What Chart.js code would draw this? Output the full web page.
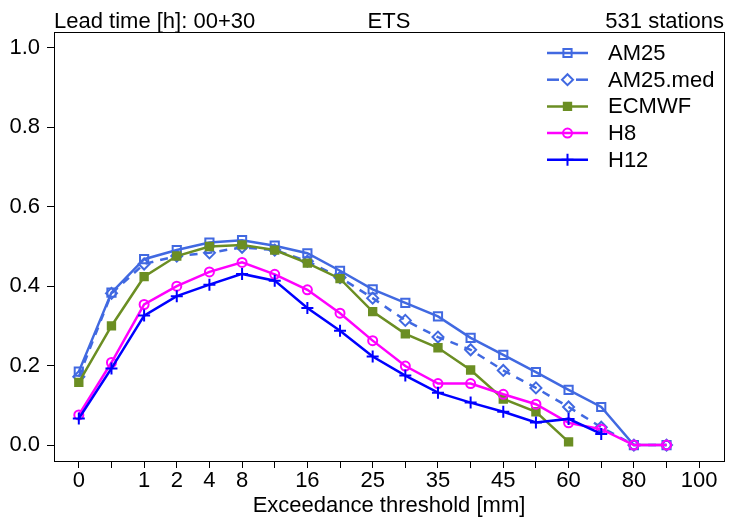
<!DOCTYPE html>
<html>
<head>
<meta charset="utf-8">
<script src="https://cdn.jsdelivr.net/npm/chart.js@4.4.1/dist/chart.umd.min.js"></script>
<style>
  html, body { margin: 0; padding: 0; background: #fff; }
  #wrap { width: 732px; height: 520px; }
</style>
</head>
<body>
<div id="wrap"><canvas id="etsChart" width="732" height="520"></canvas></div>
<script>
// exceedance thresholds [mm], one per x position
const thresholds = ["0", "0.5", "1", "2", "4", "8", "12", "16", "20", "25", "30", "35", "40", "45", "50", "60", "70", "80", "90", "100"];
const shownLabels = ["0", "1", "2", "4", "8", "16", "25", "35", "45", "60", "80", "100"];
const yTicks = [0, 0.2, 0.4, 0.6, 0.8, 1.0];

// ETS per threshold (missing thresholds simply left off the end)
const am25 = [0.185, 0.384, 0.468, 0.491, 0.510, 0.516, 0.502, 0.483, 0.439, 0.392, 0.358, 0.324, 0.270, 0.227, 0.184, 0.139, 0.096, 0.0, 0.0];
const am25Med = [0.172, 0.382, 0.456, 0.476, 0.484, 0.498, 0.491, 0.463, 0.422, 0.370, 0.314, 0.272, 0.240, 0.188, 0.144, 0.096, 0.045, 0.0, 0.0];
const ecmwf = [0.158, 0.300, 0.424, 0.476, 0.500, 0.504, 0.491, 0.458, 0.419, 0.336, 0.280, 0.245, 0.189, 0.116, 0.084, 0.008];
const h8 = [0.076, 0.208, 0.354, 0.400, 0.436, 0.460, 0.430, 0.391, 0.332, 0.263, 0.199, 0.155, 0.155, 0.128, 0.103, 0.056, 0.040, 0.0, 0.0];
const h12 = [0.067, 0.193, 0.326, 0.375, 0.404, 0.431, 0.414, 0.345, 0.288, 0.223, 0.175, 0.132, 0.107, 0.084, 0.057, 0.066, 0.028];

const FONT = "'Liberation Sans', Arial, Helvetica, sans-serif";

const series = [
  { label: "AM25", data: am25, color: "#4169e1", style: "rect", fill: false, dash: [], r: 5.8 },
  { label: "AM25.med", data: am25Med, color: "#4169e1", style: "rectRot", fill: false, dash: [8, 7], r: 5.5 },
  { label: "ECMWF", data: ecmwf, color: "#6b8e23", style: "rect", fill: true, dash: [], r: 5.2 },
  { label: "H8", data: h8, color: "#ff00ff", style: "circle", fill: false, dash: [], r: 4.5 },
  { label: "H12", data: h12, color: "#0000ff", style: "cross", fill: false, dash: [], r: 6 }
];

function toPoints(vals) {
  return vals.map((v, i) => ({ x: i, y: v }));
}

const datasets = series.map((s, i) => ({
  label: s.label,
  data: toPoints(s.data),
  borderColor: s.color,
  backgroundColor: s.fill ? s.color : "rgba(0,0,0,0)",
  borderWidth: 2.5,
  borderDash: s.dash,
  pointStyle: s.style,
  pointRadius: s.r,
  pointBorderWidth: 2,
  pointBorderColor: s.color,
  pointBackgroundColor: s.fill ? s.color : "rgba(0,0,0,0)",
  tension: 0,
  order: series.length - i
}));

function drawMarker(ctx, s, x, y) {
  ctx.save();
  ctx.strokeStyle = s.color;
  ctx.fillStyle = s.color;
  ctx.lineWidth = 2;
  ctx.setLineDash([]);
  ctx.beginPath();
  if (s.style === "rect") {
    const h = s.r * Math.SQRT1_2;
    ctx.rect(x - h, y - h, 2 * h, 2 * h);
  } else if (s.style === "rectRot") {
    ctx.moveTo(x, y - s.r); ctx.lineTo(x + s.r, y); ctx.lineTo(x, y + s.r); ctx.lineTo(x - s.r, y); ctx.closePath();
  } else if (s.style === "circle") {
    ctx.arc(x, y, s.r, 0, Math.PI * 2);
  } else if (s.style === "cross") {
    ctx.moveTo(x - s.r, y); ctx.lineTo(x + s.r, y); ctx.moveTo(x, y - s.r); ctx.lineTo(x, y + s.r);
  }
  if (s.fill) ctx.fill();
  ctx.stroke();
  ctx.restore();
}

const framePlugin = {
  id: "frame",
  afterDraw(chart) {
    const { ctx, chartArea: a } = chart;
    ctx.save();
    ctx.strokeStyle = "#000";
    ctx.lineWidth = 1;
    ctx.strokeRect(a.left + 0.5, a.top + 0.5, a.right - a.left, a.bottom - a.top);

    // header texts
    ctx.fillStyle = "#000";
    ctx.font = "22px " + FONT;
    ctx.textBaseline = "alphabetic";
    ctx.textAlign = "left";
    ctx.fillText("Lead time [h]: 00+30", a.left, 28);
    ctx.textAlign = "center";
    ctx.fillText("ETS", (a.left + a.right) / 2, 28);
    ctx.textAlign = "right";
    ctx.fillText("531 stations", a.right, 28);

    // legend
    ctx.textAlign = "left";
    ctx.textBaseline = "middle";
    series.forEach((s, i) => {
      const y = 53 + i * 26.7;
      ctx.save();
      ctx.strokeStyle = s.color;
      ctx.lineWidth = 2.5;
      if (s.dash.length) {
        ctx.beginPath(); ctx.moveTo(547, y); ctx.lineTo(559, y); ctx.stroke();
        ctx.beginPath(); ctx.moveTo(576, y); ctx.lineTo(588, y); ctx.stroke();
      } else {
        ctx.beginPath(); ctx.moveTo(547, y); ctx.lineTo(588, y); ctx.stroke();
      }
      ctx.restore();
      drawMarker(ctx, s, 567.5, y);
      ctx.fillStyle = "#000";
      ctx.fillText(s.label, 608, y + 1);
    });
    ctx.restore();
  }
};

const ctx = document.getElementById("etsChart");
new Chart(ctx, {
  type: "line",
  data: { datasets: datasets },
  options: {
    responsive: false,
    animation: false,
    layout: { padding: { top: 32, right: 7, left: 0, bottom: 0 } },
    plugins: { legend: { display: false }, tooltip: { enabled: false } },
    scales: {
      x: {
        type: "linear",
        min: -0.76,
        max: 19.76,
        afterBuildTicks: (s) => { s.ticks = thresholds.map((t, i) => ({ value: i })); },
        afterFit: (s) => { s.height = 59; },
        ticks: {
          autoSkip: false,
          maxRotation: 0,
          padding: 0,
          color: "#000",
          font: { family: FONT, size: 22 },
          callback: (v) => (shownLabels.includes(thresholds[v]) ? thresholds[v] : "")
        },
        grid: { drawOnChartArea: false, tickLength: 7, color: "#000", lineWidth: 1 },
        border: { color: "#000" },
        title: {
          display: true,
          text: "Exceedance threshold [mm]",
          color: "#000",
          font: { family: FONT, size: 22 },
          padding: { top: 0, bottom: 1 }
        }
      },
      y: {
        min: -0.04,
        max: 1.04,
        afterBuildTicks: (s) => { s.ticks = yTicks.map((v) => ({ value: v })); },
        afterFit: (s) => { s.width = 54; },
        ticks: {
          padding: 7,
          color: "#000",
          font: { family: FONT, size: 22 },
          callback: (v) => v.toFixed(1)
        },
        grid: { drawOnChartArea: false, tickLength: 7, color: "#000", lineWidth: 1 },
        border: { color: "#000" }
      }
    }
  },
  plugins: [framePlugin]
});
</script>
</body>
</html>
